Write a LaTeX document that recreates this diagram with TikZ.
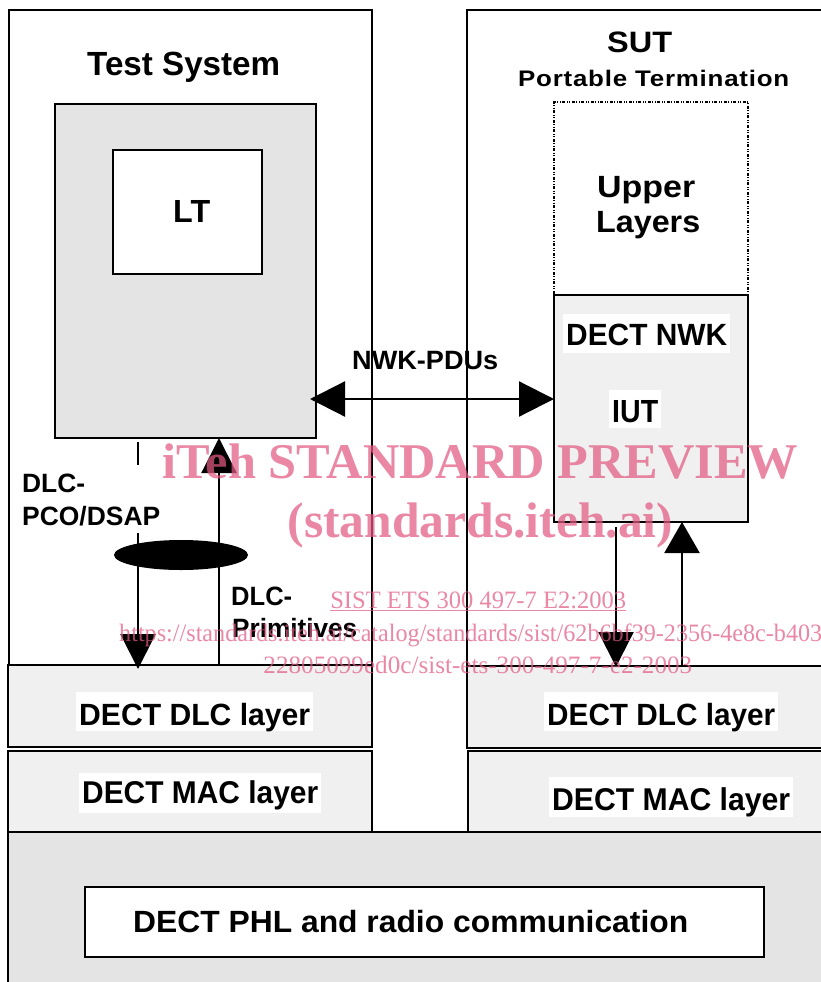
\documentclass[tikz,border=0pt]{standalone}
\usepackage{fontspec}
\setmainfont{Liberation Sans}
\newfontfamily\spacedfont[LetterSpace=3]{Liberation Sans}
\newfontfamily\wmfont{Liberation Serif}
\usepackage{graphicx}
\usetikzlibrary{arrows.meta,shapes.geometric}
\definecolor{greyA}{RGB}{228,228,228}
\definecolor{greyB}{RGB}{240,240,240}
\definecolor{wmpink}{RGB}{225,90,130}
\newcommand\tx[3]{\resizebox{#1pt}{\height}{\fontsize{#2pt}{#2pt}\selectfont\bfseries #3}}
\newcommand\wmtx[4]{\resizebox{#1pt}{\height}{\fontsize{#2pt}{#2pt}\selectfont\wmfont#3 #4}}
\begin{document}
\begin{tikzpicture}[x=1pt,y=-1pt,
  box/.style={draw, line width=2.2pt, anchor=north west, inner sep=0pt, outer sep=0pt},
  lbl/.style={anchor=base west, inner sep=0pt, text=black},
  bglbl/.style={anchor=base west, fill=white, inner xsep=3pt, inner ysep=0pt},
  wm/.style={anchor=base west, inner sep=0pt, text=wmpink, text opacity=0.72},
  conn/.style={line width=2.2pt},
  arrowhd/.style={-{Triangle[length=35pt,width=35pt]}},
  arrowhdb/.style={-{Triangle[length=31pt,width=35pt]}},
  arrowboth/.style={{Triangle[length=35pt,width=35pt]}-{Triangle[length=35pt,width=35pt]}},
]
\useasboundingbox (0,0) rectangle (821,982);
\fill[white] (0,0) rectangle (821,982);

% outer system boxes
\node[box, minimum width=363pt, minimum height=655pt] (tsys) at (9,10) {};
\node[box, minimum width=380pt, minimum height=656pt] (sut) at (467,10) {};

% test system internals
\node[box, fill=greyA, minimum width=261pt, minimum height=334pt] (grey) at (55,104) {};
\node[box, fill=white, minimum width=149pt, minimum height=124pt] (ltbox) at (113,150) {};

% SUT internals
\node[box, line width=1.4pt, dash pattern=on 3pt off 1.5pt on 1pt off 1.5pt on 1pt off 1.5pt, minimum width=194pt, minimum height=193pt] (upper) at (554,102) {};
\node[box, fill=greyB, minimum width=194pt, minimum height=227pt] (nwk) at (554,295) {};

% layers
\node[box, fill=greyB, minimum width=364pt, minimum height=82pt] (dlcL) at (8,665) {};
\node[box, fill=greyB, minimum width=364pt, minimum height=81pt] (macL) at (8,751) {};
\node[box, fill=greyB, minimum width=380pt, minimum height=82pt] (dlcR) at (467,666) {};
\node[box, fill=greyB, minimum width=380pt, minimum height=82pt] (macR) at (468,751) {};
\node[box, fill=greyA, minimum width=840pt, minimum height=170pt] (phl) at (8,832) {};
\node[box, fill=white, minimum width=679pt, minimum height=70pt] (phlin) at (85,887) {};

% connectors
\coordinate (pdu) at (0,399);
\draw[conn, arrowboth, shorten <=-6pt] (grey.east |- pdu) -- (nwk.west |- pdu);

\coordinate (pcoA) at (138,442);
\coordinate (pcoB) at (138,465);
\coordinate (pcoC) at (138,533);
\draw[conn, shorten <=4pt] (grey.south -| pcoA) -- (pcoB);
\draw[conn, arrowhd, shorten >=-4pt] (pcoC) -- (dlcL.north -| pcoC);

\coordinate (upL) at (219,0);
\draw[conn, arrowhd] (dlcL.north -| upL) -- (grey.south -| upL);

\coordinate (dnR) at (616,0);
\draw[conn, arrowhd, shorten <=5pt, shorten >=-1pt] (nwk.south -| dnR) -- (dlcR.north -| dnR);
\coordinate (upR) at (682,0);
\draw[conn, arrowhdb] (dlcR.north -| upR) -- (nwk.south -| upR);

\node[ellipse, fill=black, inner sep=0pt, minimum width=134pt, minimum height=30pt] (sap) at (181,555) {};

% labels
\node[lbl] (tstitle) at (87,76) {\tx{193}{33.5}{Test System}};
\node[lbl] (ltlbl) at (173,222) {\tx{37}{32}{LT}};
\node[lbl] (sutlbl) at (607,53) {\tx{65}{29.5}{SUT}};
\node[lbl] (ptlbl) at (518,86) {\tx{271}{22.5}{\spacedfont Portable Termination}};
\node[lbl] (up1) at (597,197) {\tx{98}{30.7}{Upper}};
\node[lbl] (up2) at (596,232) {\tx{104}{30.7}{Layers}};
\node[bglbl, text height=31pt, text depth=8pt] (nwklbl) at (563,345) {\tx{161}{30.7}{DECT NWK}};
\node[bglbl, text height=32pt, text depth=6pt] (iutlbl) at (609,422) {\tx{46}{32}{IUT}};
\node[lbl] (pdulbl) at (352,369) {\tx{146}{26.5}{NWK-PDUs}};
\node[lbl] (pco1) at (22,492) {\tx{63}{26.5}{DLC-}};
\node[lbl] (pco2) at (22,525) {\tx{138}{26.5}{PCO/DSAP}};
\node[lbl] (prim1) at (231,605) {\tx{61}{26.5}{DLC-}};
\node[lbl] (prim2) at (232,637) {\tx{125}{26.5}{Primitives}};
\node[bglbl, text height=33pt, text depth=6pt] (dlcLl) at (76,725) {\tx{231}{30.7}{DECT DLC layer}};
\node[bglbl, text height=30pt, text depth=10pt] (macLl) at (79,803) {\tx{236}{31.5}{DECT MAC layer}};
\node[bglbl, text height=33pt, text depth=6pt] (dlcRl) at (544,725) {\tx{228}{30.7}{DECT DLC layer}};
\node[bglbl, text height=33pt, text depth=7pt] (macRl) at (549,810) {\tx{238}{31.5}{DECT MAC layer}};
\node[lbl] (phllbl) at (133,932) {\tx{555}{30.7}{DECT PHL and radio communication}};

% watermark
\node[wm] (wm1) at (150,478) {\wmtx{648}{50}{\bfseries}{iTeh STANDARD PREVIEW}};
\node[wm] (wm2) at (275,537) {\wmtx{398}{50}{\bfseries}{(standards.iteh.ai)}};
\node[wm] (wm3) at (324,608) {\wmtx{302}{25}{}{\underline{SIST ETS 300 497-7 E2:2003}}};
\node[wm] (wm4) at (113,641) {\wmtx{717}{25}{}{https://standards.iteh.ai/catalog/standards/sist/62b6bf39-2356-4e8c-b403-}};
\node[wm] (wm5) at (257,673) {\wmtx{435}{25}{}{22805099ed0c/sist-ets-300-497-7-e2-2003}};
\end{tikzpicture}
\end{document}
